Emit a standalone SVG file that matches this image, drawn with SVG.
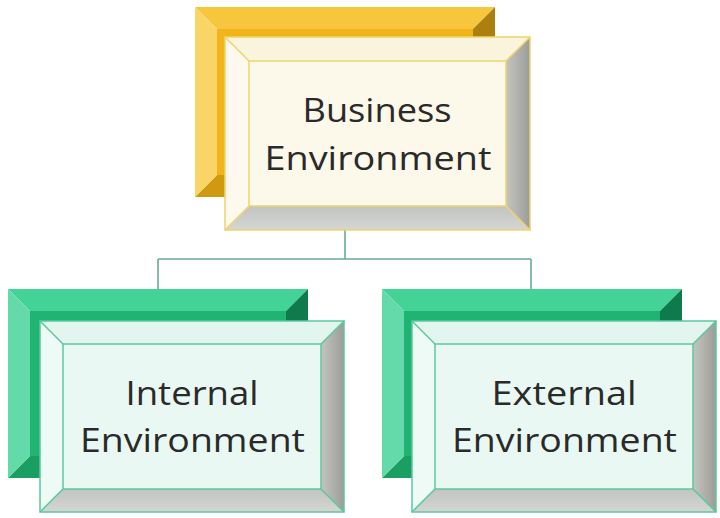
<svg xmlns="http://www.w3.org/2000/svg" width="720" height="518" viewBox="0 0 720 518">
<defs>
<linearGradient id="gR" x1="0" y1="0" x2="1" y2="0"><stop offset="0" stop-color="#c4c4c0"/><stop offset="1" stop-color="#9c9c9a"/></linearGradient>
<linearGradient id="gB" x1="0" y1="0" x2="0" y2="1"><stop offset="0" stop-color="#c2c4c2"/><stop offset="1" stop-color="#d4d6d4"/></linearGradient>
</defs>
<style>
.lbl{font-family:"Open Sans","Noto Sans","Liberation Sans",sans-serif;font-size:33px;font-weight:400;fill:#2a2a2a;text-anchor:middle}
.conn{stroke:#6aa99a;stroke-width:1.6;fill:none}
.gy-t{fill:#f6c73c}.gy-l{fill:#f9d466}.gy-c{fill:#f1b41a}.gy-r{fill:#ac800e}.gy-b{fill:#d09a10}
.fy-t{fill:#fbf4dc}.fy-l{fill:#fdf9ee}.fy-c{fill:#fcf8ea}
.fy-line{stroke:#eed46c;stroke-width:1.5;fill:none}
.gg-t{fill:#43d396}.gg-l{fill:#64d9aa}.gg-c{fill:#20b472}.gg-r{fill:#0f7a4b}.gg-b{fill:#1a9e62}
.fg-t{fill:#e2f6ef}.fg-l{fill:#eefaf6}.fg-c{fill:#e9f8f2}
.fg-line{stroke:#5cc89e;stroke-width:1.5;fill:none}
.fr{fill:url(#gR)}.fb{fill:url(#gB)}
</style>

<g id="connectors">
<line class="conn" x1="345" y1="228" x2="345" y2="259"/>
<line class="conn" x1="158" y1="259" x2="531" y2="259"/>
<line class="conn" x1="158" y1="259" x2="158" y2="290"/>
<line class="conn" x1="531" y1="259" x2="531" y2="290"/>
</g>

<g id="node-business">
<rect class="gy-c" x="217" y="29" width="256" height="146"/>
<polygon class="gy-t" points="195,7 495,7 473,29 217,29"/>
<polygon class="gy-r" points="495,7 495,197 473,175 473,29"/>
<polygon class="gy-b" points="195,197 495,197 473,175 217,175"/>
<polygon class="gy-l" points="195,7 195,197 217,175 217,29"/>
<rect class="fy-c" x="249" y="61" width="257" height="145"/>
<polygon class="fy-t" points="225,37 530,37 506,61 249,61"/>
<polygon class="fr" points="530,37 530,230 506,206 506,61"/>
<polygon class="fb" points="225,230 530,230 506,206 249,206"/>
<polygon class="fy-l" points="225,37 225,230 249,206 249,61"/>
<rect class="fy-line" x="225" y="37" width="305" height="193"/>
<rect class="fy-line" x="249" y="61" width="257" height="145"/>
<path class="fy-line" d="M225,37 L249,61 M530,37 L506,61 M225,230 L249,206 M530,230 L506,206"/>
<text class="lbl" x="377" y="122" textLength="149" lengthAdjust="spacingAndGlyphs">Business</text>
<text class="lbl" x="378" y="170" textLength="227" lengthAdjust="spacingAndGlyphs">Environment</text>
</g>

<g id="node-internal">
<rect class="gg-c" x="30" y="311" width="256" height="145"/>
<polygon class="gg-t" points="8,289 308,289 286,311 30,311"/>
<polygon class="gg-r" points="308,289 308,478 286,456 286,311"/>
<polygon class="gg-b" points="8,478 308,478 286,456 30,456"/>
<polygon class="gg-l" points="8,289 8,478 30,456 30,311"/>
<rect class="fg-c" x="63" y="344" width="258" height="145"/>
<polygon class="fg-t" points="40,321 344,321 321,344 63,344"/>
<polygon class="fr" points="344,321 344,512 321,489 321,344"/>
<polygon class="fb" points="40,512 344,512 321,489 63,489"/>
<polygon class="fg-l" points="40,321 40,512 63,489 63,344"/>
<rect class="fg-line" x="40" y="321" width="304" height="191"/>
<rect class="fg-line" x="63" y="344" width="258" height="145"/>
<path class="fg-line" d="M40,321 L63,344 M344,321 L321,344 M40,512 L63,489 M344,512 L321,489"/>
<text class="lbl" x="192" y="405" textLength="133" lengthAdjust="spacingAndGlyphs">Internal</text>
<text class="lbl" x="192.5" y="452" textLength="225" lengthAdjust="spacingAndGlyphs">Environment</text>
</g>

<g id="node-external">
<rect class="gg-c" x="404" y="311" width="256" height="145"/>
<polygon class="gg-t" points="382,289 682,289 660,311 404,311"/>
<polygon class="gg-r" points="682,289 682,478 660,456 660,311"/>
<polygon class="gg-b" points="382,478 682,478 660,456 404,456"/>
<polygon class="gg-l" points="382,289 382,478 404,456 404,311"/>
<rect class="fg-c" x="435" y="344" width="258" height="145"/>
<polygon class="fg-t" points="412,321 716,321 693,344 435,344"/>
<polygon class="fr" points="716,321 716,512 693,489 693,344"/>
<polygon class="fb" points="412,512 716,512 693,489 435,489"/>
<polygon class="fg-l" points="412,321 412,512 435,489 435,344"/>
<rect class="fg-line" x="412" y="321" width="304" height="191"/>
<rect class="fg-line" x="435" y="344" width="258" height="145"/>
<path class="fg-line" d="M412,321 L435,344 M716,321 L693,344 M412,512 L435,489 M716,512 L693,489"/>
<text class="lbl" x="564" y="405" textLength="145" lengthAdjust="spacingAndGlyphs">External</text>
<text class="lbl" x="564.5" y="452" textLength="225" lengthAdjust="spacingAndGlyphs">Environment</text>
</g>
</svg>
